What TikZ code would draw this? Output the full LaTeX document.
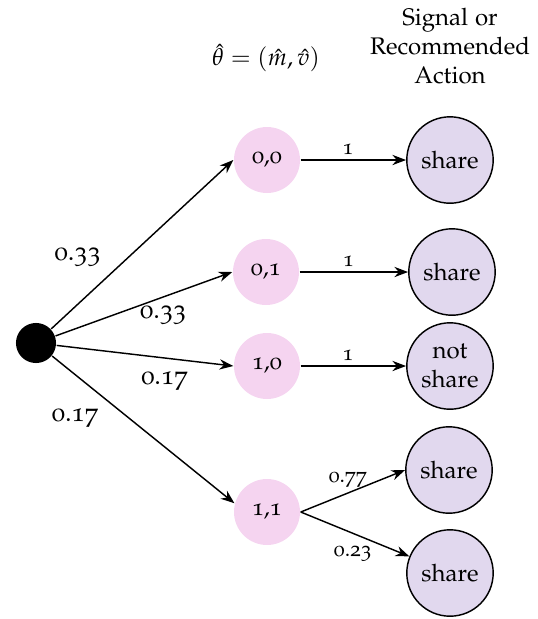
\documentclass[tikz,border=0pt]{standalone}
\usepackage[T1]{fontenc}
\usepackage[osf]{mathpazo}
\usepackage{amsmath}
\usetikzlibrary{arrows.meta,positioning}
\definecolor{typepink}{HTML}{F5D4F0}
\definecolor{actionlilac}{HTML}{E1D8EE}

\begin{document}
\begin{tikzpicture}[x=0.4167pt, y=-0.4167pt, ->, >=Stealth, semithick,
  type/.style={circle, fill=typepink, minimum size=27.5pt, inner sep=0pt},
  action/.style={circle, draw, fill=actionlilac, minimum size=36pt, inner sep=0pt, align=center},
  rootprob/.style={font=\fontsize{11}{13}\selectfont},
  prob/.style={font=\fontsize{9}{11}\selectfont, inner sep=2pt}]
\path[use as bounding box] (0,0) rectangle (538,619);
\node[circle, fill=black, minimum size=16.7pt, inner sep=0pt] (root) at (36,343) {};
\node[type] (T00) at (267,160) {0,0};
\node[type] (T01) at (266,272) {0,1};
\node[type] (T10) at (267,366) {1,0};
\node[type] (T11) at (267,512) {1,1};
\node[action] (A1) at (450,160) {share};
\node[action] (A2) at (452,272) {share};
\node[action] (A3) at (450,366) {not\\share};
\node[action] (A4) at (449,470) {share};
\node[action] (A5) at (450,573) {share};
\node (thetahead) at (266,58) {$\hat{\theta} = (\hat{m}, \hat{v})$};
\node[align=center] (acthead) at (450,46) {Signal or\\Recommended\\Action};
\path (root) edge node[rootprob, pos=0.32, above left] {0.33} (T00.west);
\path (root) edge node[rootprob, pos=0.61, below] {0.33} (T01.west);
\path (root) edge node[rootprob, pos=0.61, below=2pt] {0.17} (T10.west);
\path (root) edge node[rootprob, pos=0.3, below left] {0.17} (T11.165);
\path (T00) edge node[prob, pos=0.45, above] {1} (A1);
\path (T01) edge node[prob, pos=0.45, above] {1} (A2);
\path (T10) edge node[prob, pos=0.45, above] {1} (A3);
\path (T11.east) edge node[prob, pos=0.45, above] {0.77} (A4.west);
\path (T11.east) edge node[prob, pos=0.48, below=3pt] {0.23} (A5);
\end{tikzpicture}
\end{document}
